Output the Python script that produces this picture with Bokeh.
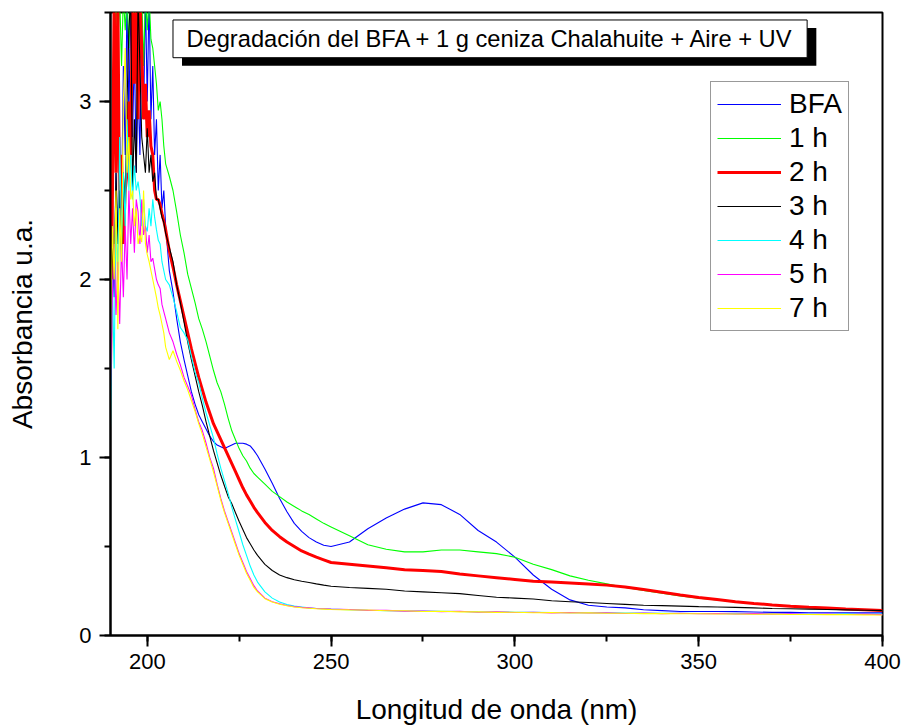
from bokeh.plotting import figure
from bokeh.models import (Range1d, SingleIntervalTicker, Legend, LegendItem,
                          Label, BoxAnnotation, ColumnDataSource)
from bokeh.embed import file_html
from bokeh.resources import INLINE

FONT = "Liberation Sans"

# ---------------- data ----------------
wavelength = [
    190, 190.5, 191, 191.5, 192, 192.5, 193, 193.5, 194, 194.5, 195, 195.5,
    196, 196.5, 197, 197.5, 198, 198.5, 199, 199.5, 200, 200.5, 201, 201.5,
    202, 202.5, 203, 203.5, 204, 204.5, 205,
    206, 207, 208, 209, 210, 211, 212, 213, 214, 215, 216, 217, 218, 219, 220,
    221, 222, 223, 224, 225, 226, 227, 228, 229, 230,
    232, 234, 236, 238, 240, 242, 244, 246, 248, 250,
    255, 260, 265, 270, 275, 280, 285, 290, 295, 300, 305, 310, 315, 320, 325,
    330, 335, 340, 345, 350, 355, 360, 365, 370, 375, 380, 385, 390, 395, 400,
]

series_labels = ["BFA", "1 h", "2 h", "3 h", "4 h", "5 h", "7 h"]

abs_bfa = [
    1.3, 2.2, 1.9, 2.6, 2.2, 2.8, 2.4, 3.2, 2.7, 3.6, 2.9, 3.6, 2.8, 3.3, 2.6, 3.1,
    2.7, 3.4, 2.9, 3.6, 3.0, 3.6, 2.9, 3.2, 2.7, 2.9, 2.5, 2.7, 2.4, 2.5, 2.3,
    2.05, 1.93, 1.78, 1.65, 1.55, 1.46, 1.37, 1.3, 1.24, 1.2, 1.16, 1.12, 1.09,
    1.07, 1.06, 1.05, 1.06, 1.07, 1.08, 1.08, 1.08, 1.075, 1.065, 1.04, 1.01,
    0.935, 0.855, 0.77, 0.695, 0.63, 0.585, 0.55, 0.525, 0.507, 0.50,
    0.525, 0.60, 0.66, 0.71, 0.745, 0.735, 0.68, 0.59, 0.525, 0.44, 0.34, 0.26,
    0.20, 0.17, 0.16, 0.155, 0.145, 0.14, 0.135, 0.135, 0.135, 0.134, 0.132,
    0.13, 0.13, 0.128, 0.128, 0.127, 0.127, 0.127,
]
abs_1h = [
    1.8, 2.6, 3.1, 3.6, 3.3, 3.6, 3.2, 3.6, 3.4, 3.6, 3.3, 3.6, 3.6, 3.4, 3.6, 3.6,
    3.3, 3.6, 3.2, 3.6, 3.4, 3.6, 3.35, 3.3, 3.2, 3.1, 2.95, 3.0, 2.9, 2.75, 2.65,
    2.58, 2.5, 2.38, 2.25, 2.15, 2.03, 1.95, 1.87, 1.78, 1.72, 1.65, 1.57, 1.49,
    1.42, 1.37, 1.3, 1.22, 1.15, 1.1, 1.05, 1.01, 0.98, 0.94, 0.91, 0.89,
    0.85, 0.81, 0.78, 0.75, 0.725, 0.70, 0.68, 0.655, 0.63, 0.61,
    0.56, 0.51, 0.485, 0.47, 0.47, 0.48, 0.48, 0.47, 0.46, 0.44, 0.40, 0.37,
    0.335, 0.31, 0.29, 0.27, 0.253, 0.237, 0.222, 0.21, 0.20, 0.19, 0.18, 0.172,
    0.165, 0.16, 0.155, 0.15, 0.145, 0.14,
]
abs_2h = [
    1.5, 2.4, 3.6, 2.6, 3.6, 2.3, 2.7, 2.2, 2.5, 2.6, 3.0, 2.7, 3.6, 3.1, 3.6, 2.9,
    3.6, 3.3, 2.9, 3.1, 2.8, 2.95, 2.75, 2.7, 2.5, 2.45, 2.45, 2.42, 2.37, 2.33, 2.28,
    2.16, 2.07, 1.97, 1.88, 1.79, 1.70, 1.61, 1.53, 1.45, 1.38, 1.31, 1.25, 1.19,
    1.145, 1.10, 1.055, 1.01, 0.965, 0.92, 0.875, 0.83, 0.79, 0.755, 0.72, 0.69,
    0.635, 0.59, 0.555, 0.525, 0.50, 0.475, 0.457, 0.44, 0.425, 0.41,
    0.40, 0.39, 0.38, 0.37, 0.365, 0.36, 0.345, 0.335, 0.325, 0.315, 0.305, 0.30,
    0.295, 0.29, 0.283, 0.272, 0.258, 0.243, 0.228, 0.214, 0.202, 0.19, 0.18,
    0.172, 0.165, 0.159, 0.154, 0.149, 0.145, 0.141,
]
abs_3h = [
    1.4, 2.3, 2.0, 2.6, 2.2, 2.5, 2.1, 2.6, 2.4, 3.0, 3.4, 3.6, 2.5, 2.9, 2.6, 3.6,
    3.2, 2.8, 2.7, 2.6, 2.85, 2.6, 2.7, 2.55, 2.6, 2.45, 2.45, 2.4, 2.35, 2.32, 2.26,
    2.18, 2.1, 1.97, 1.87, 1.76, 1.65, 1.55, 1.46, 1.37, 1.29, 1.2, 1.12, 1.04,
    0.97, 0.9, 0.84, 0.78, 0.74, 0.69, 0.64, 0.595, 0.55, 0.515, 0.48, 0.45,
    0.40, 0.365, 0.34, 0.325, 0.313, 0.305, 0.298, 0.29, 0.283, 0.277,
    0.27, 0.265, 0.26, 0.25, 0.245, 0.24, 0.235, 0.225, 0.215, 0.21, 0.205, 0.195,
    0.19, 0.185, 0.18, 0.175, 0.17, 0.168, 0.165, 0.162, 0.16, 0.158, 0.155,
    0.152, 0.15, 0.148, 0.146, 0.144, 0.142, 0.14,
]
abs_4h = [
    1.17, 2.0, 1.5, 2.4, 2.0, 2.8, 2.2, 2.6, 2.3, 2.9, 2.5, 2.7, 2.45, 2.64, 2.5,
    2.55, 2.47, 2.3, 2.45, 2.3, 2.27, 2.4, 2.3, 2.45, 2.35, 2.28, 2.22, 2.2, 2.1,
    2.05, 2.0,
    1.97, 1.9, 1.82, 1.73, 1.7, 1.66, 1.57, 1.48, 1.42, 1.33, 1.25, 1.18, 1.11,
    1.02, 0.94, 0.87, 0.8, 0.72, 0.65, 0.58, 0.51, 0.45, 0.39, 0.34, 0.30,
    0.245, 0.21, 0.188, 0.174, 0.165, 0.16, 0.155, 0.152, 0.15, 0.148,
    0.145, 0.142, 0.14, 0.138, 0.137, 0.136, 0.135, 0.133, 0.132, 0.131, 0.13,
    0.129, 0.128, 0.128, 0.127, 0.126, 0.126, 0.125, 0.125, 0.124, 0.124, 0.123,
    0.123, 0.122, 0.122, 0.121, 0.121, 0.12, 0.12, 0.12,
]
abs_5h = [
    1.4, 1.9, 2.2, 1.8, 2.1, 1.75, 2.2, 1.9, 2.3, 2.0, 2.5, 2.2, 2.4, 2.15, 2.45,
    2.38, 2.2, 2.45, 2.25, 2.3, 2.15, 2.25, 2.1, 2.12, 2.06, 2.0, 1.97, 1.95, 1.86,
    1.82, 1.78,
    1.7, 1.65, 1.58, 1.52, 1.45, 1.4, 1.35, 1.27, 1.2, 1.15, 1.08, 1.0, 0.94,
    0.85, 0.77, 0.7, 0.64, 0.58, 0.52, 0.46, 0.41, 0.36, 0.32, 0.28, 0.25,
    0.21, 0.19, 0.178, 0.169, 0.162, 0.158, 0.155, 0.152, 0.15, 0.148,
    0.146, 0.141, 0.141, 0.137, 0.138, 0.134, 0.136, 0.131, 0.133, 0.129, 0.131,
    0.127, 0.129, 0.126, 0.127, 0.124, 0.126, 0.123, 0.125, 0.122, 0.124, 0.121,
    0.123, 0.120, 0.122, 0.119, 0.121, 0.118, 0.12, 0.117,
]
abs_7h = [
    1.7, 2.3, 2.0, 2.5, 1.72, 2.4, 2.1, 3.0, 3.3, 2.6, 2.8, 2.45, 2.5, 2.3, 2.4,
    2.2, 2.25, 2.21, 2.5, 2.2, 2.14, 2.1, 2.05, 2.0, 1.95, 1.9, 1.84, 1.8, 1.75,
    1.7, 1.62,
    1.55, 1.6, 1.54, 1.49, 1.43, 1.38, 1.32, 1.26, 1.19, 1.13, 1.06, 0.99, 0.92,
    0.84, 0.76, 0.69, 0.63, 0.57, 0.51, 0.45, 0.4, 0.35, 0.31, 0.27, 0.245,
    0.207, 0.188, 0.176, 0.167, 0.16, 0.156, 0.153, 0.15, 0.148, 0.146,
    0.144, 0.143, 0.139, 0.139, 0.135, 0.136, 0.133, 0.133, 0.13, 0.131, 0.128,
    0.129, 0.126, 0.127, 0.125, 0.125, 0.123, 0.124, 0.122, 0.122, 0.121, 0.121,
    0.119, 0.12, 0.118, 0.118, 0.117, 0.117, 0.116, 0.115,
]

series_values = [abs_bfa, abs_1h, abs_2h, abs_3h, abs_4h, abs_5h, abs_7h]
series_colors = ["#0000FF", "#00FF00", "#FF0000", "#000000", "#00FFFF", "#FF00FF", "#FFFF00"]
series_widths = [1.1, 1.1, 3, 1.1, 1.1, 1.1, 1.1]

title_text = "Degradación del BFA + 1 g ceniza Chalahuite + Aire + UV"
x_title = "Longitud de onda (nm)"
y_title = "Absorbancia u.a."

# ---------------- figure ----------------
p = figure(width=904, height=727,
           x_range=Range1d(190, 400), y_range=Range1d(0, 3.5),
           output_backend="svg", toolbar_location=None,
           min_border_left=110, min_border_right=22,
           min_border_top=12, min_border_bottom=91)
p.background_fill_color = "white"
p.border_fill_color = "white"
p.outline_line_color = "black"
p.outline_line_width = 2
p.xgrid.visible = False
p.ygrid.visible = False

items = []
for lab, vals, col, w in zip(series_labels, series_values, series_colors, series_widths):
    src = ColumnDataSource(dict(x=wavelength, y=vals))
    r = p.line("x", "y", source=src, line_color=col, line_width=w)
    items.append(LegendItem(label=lab, renderers=[r]))

# axes
p.xaxis.ticker = SingleIntervalTicker(interval=50, num_minor_ticks=2)
p.yaxis.ticker = SingleIntervalTicker(interval=1, num_minor_ticks=2)
for ax in (p.xaxis[0], p.yaxis[0]):
    ax.axis_line_width = 2
    ax.axis_line_color = "black"
    ax.major_tick_line_width = 2
    ax.minor_tick_line_width = 2
    ax.major_tick_in = 0
    ax.major_tick_out = 11
    ax.minor_tick_in = 0
    ax.minor_tick_out = 6
    ax.major_label_text_font = FONT
    ax.major_label_text_font_size = "22px"
    ax.major_label_text_color = "black"
    ax.axis_label_text_font = FONT
    ax.axis_label_text_font_size = "28px"
    ax.axis_label_text_font_style = "normal"
    ax.axis_label_text_color = "black"
p.xaxis.major_label_standoff = 7
p.yaxis.major_label_standoff = 8

p.xaxis.axis_label = x_title
p.xaxis.axis_label_standoff = 22
p.yaxis.axis_label = y_title
p.yaxis.axis_label_standoff = 38

# title box with drop shadow
shadow = BoxAnnotation(left=209.45, right=382.0, bottom=3.201, top=3.413,
                       fill_color="black", fill_alpha=1.0, line_alpha=0)
box = BoxAnnotation(left=207.0, right=379.5, bottom=3.246, top=3.458,
                    fill_color="white", fill_alpha=1.0,
                    line_color="black", line_width=1, line_alpha=1.0)
p.add_layout(shadow)
p.add_layout(box)
tlab = Label(x=293.3, y=3.352, text=title_text, text_align="center",
             text_baseline="middle", text_font=FONT,
             text_font_size="23.7px", text_color="black")
p.add_layout(tlab)

legend = Legend(items=items, location=(600, 304))
legend.label_text_font = FONT
legend.label_text_font_size = "28px"
legend.label_text_color = "black"
legend.glyph_width = 64
legend.glyph_height = 32
legend.label_height = 32
legend.label_standoff = 8
legend.spacing = 2
legend.padding = 6
legend.margin = 0
legend.border_line_color = "#333333"
legend.border_line_width = 1
legend.background_fill_color = "white"
legend.background_fill_alpha = 1.0
p.add_layout(legend)

open("out.html", "w").write(file_html(p, INLINE))
